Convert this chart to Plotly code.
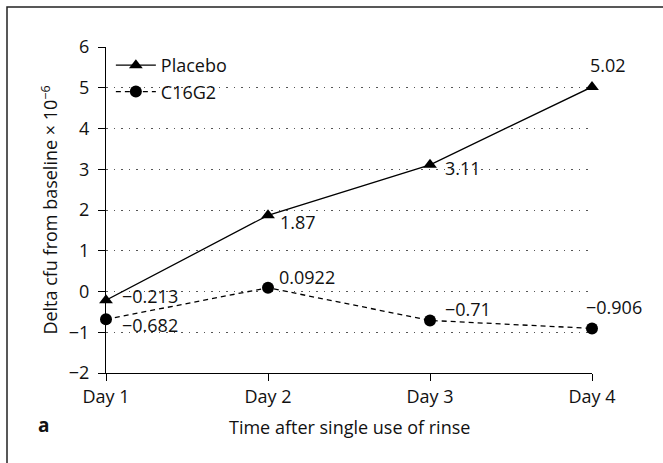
import plotly.graph_objects as go

# ---- data ----
days = ["Day 1", "Day 2", "Day 3", "Day 4"]
placebo = [-0.213, 1.87, 3.11, 5.02]
c16g2 = [-0.682, 0.0922, -0.71, -0.906]
y_ticks = [-2, -1, 0, 1, 2, 3, 4, 5, 6]
x_title = "Time after single use of rinse"
y_title = "Delta cfu from baseline × 10<sup>−6</sup>"
panel_label = "a"

# ---- label offsets (style) ----
placebo_off = [("left", 14, 4), ("left", 10, -7), ("left", 13, -3), ("center", 16, 22)]
c16g2_off = [("left", 14, -6), ("left", 9, 11), ("left", 13, 11), ("center", 22, 21)]

FONT = "Open Sans"
FS = 18

def fmt(v):
    return f"{v:g}".replace("-", "\u2212")

fig = go.Figure()
fig.add_trace(go.Scatter(
    x=days, y=placebo, name="Placebo", mode="lines+markers",
    line=dict(color="black", width=1.3),
    marker=dict(symbol="triangle-up", size=12, color="black"),
    cliponaxis=False,
))
fig.add_trace(go.Scatter(
    x=days, y=c16g2, name="C16G2", mode="lines+markers",
    line=dict(color="black", width=1.3, dash="5px,4px"),
    marker=dict(symbol="circle", size=12, color="black"),
    cliponaxis=False,
))

annotations = []
for series, offs in ((placebo, placebo_off), (c16g2, c16g2_off)):
    for d, v, (anc, dx, dy) in zip(days, series, offs):
        annotations.append(dict(
            x=d, y=v, xref="x", yref="y", text=fmt(v), showarrow=False,
            xanchor=anc, yanchor="middle", xshift=dx, yshift=dy,
            font=dict(family=FONT, size=FS, color="#111"),
        ))

annotations.append(dict(
    x=-0.116, y=0.5, xref="paper", yref="paper", text=y_title, textangle=-90,
    showarrow=False, xanchor="center", yanchor="middle",
    font=dict(family=FONT, size=FS, color="#111"),
))
annotations.append(dict(
    x=0.5, y=-0.166, xref="paper", yref="paper", text=x_title,
    showarrow=False, xanchor="center", yanchor="middle",
    font=dict(family=FONT, size=FS, color="#111"),
))
annotations.append(dict(
    x=-0.1296, y=-0.1595, xref="paper", yref="paper", text=f"<b>{panel_label}</b>",
    showarrow=False, xanchor="center", yanchor="middle",
    font=dict(family=FONT, size=FS + 1, color="#111"),
))

fig.update_layout(
    width=663, height=463,
    margin=dict(l=106, r=71, t=47, b=90),
    paper_bgcolor="white", plot_bgcolor="white",
    font=dict(family=FONT, size=FS, color="#111"),
    showlegend=True,
    legend=dict(
        x=0.01, y=1.0, xanchor="left", yanchor="top",
        bgcolor="rgba(0,0,0,0)", font=dict(family=FONT, size=FS),
        tracegroupgap=0, itemwidth=40,
    ),
    annotations=annotations,
    shapes=[dict(
        type="rect", xref="paper", yref="paper",
        x0=-0.2037, x1=1.25, y0=-0.4, y1=1.1227,
        line=dict(color="#222", width=1.5), layer="below",
    )],
)

fig.update_xaxes(
    type="category", range=[0, 3],
    showline=True, linecolor="black", linewidth=1,
    ticks="outside", ticklen=7, tickcolor="black", tickwidth=1,
    showgrid=False, zeroline=False,
    tickfont=dict(family=FONT, size=FS, color="#111"),
)
fig.update_yaxes(
    range=[-2, 6], tickvals=y_ticks,
    showline=True, linecolor="black", linewidth=1,
    ticks="outside", ticklen=7, tickcolor="black", tickwidth=1,
    ticklabelstandoff=5,
    showgrid=True, gridcolor="#555", gridwidth=1, griddash="1.5px,6px",
    zeroline=False,
    tickfont=dict(family=FONT, size=FS, color="#111"),
)

fig.write_html("out.html")
